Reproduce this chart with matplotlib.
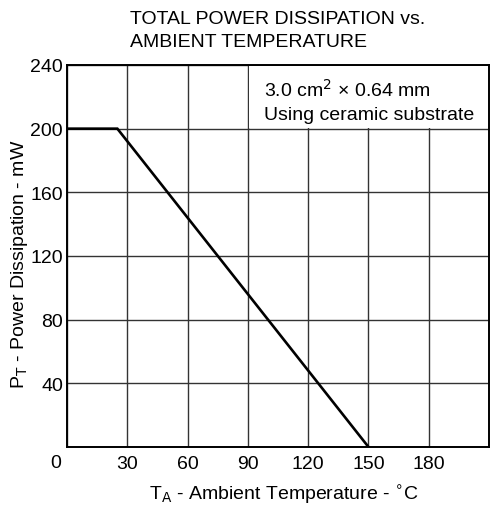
import numpy as np
import matplotlib
matplotlib.use("Agg")
import matplotlib.pyplot as plt
from matplotlib.patches import Rectangle

# derating curve
temp = [0, 25, 150]
power = [200, 200, 0]
xticks = [0, 30, 60, 90, 120, 150, 180]
xlabels = ["", "30", "60", "90", "120", "150", "180"]
yticks = [0, 40, 80, 120, 160, 200, 240]
ylabels = ["", "40", "80", "120", "160", "200", "240"]

plt.rcParams["font.family"] = ["Liberation Sans", "DejaVu Sans"]
fig = plt.figure(figsize=(4.9, 5.1), dpi=100)
ax = fig.add_axes([0.137, 0.1216, 0.861, 0.749])

ax.plot(temp, power, color="black", lw=1.9, solid_joinstyle="miter", zorder=3)
ax.set_xlim(0, 210)
ax.set_ylim(0, 240)
ax.set_xticks(xticks, xlabels)
ax.set_yticks(yticks, ylabels)
ax.grid(True, color="#333333", lw=1.0, zorder=1)
ax.set_axisbelow(True)
ax.tick_params(length=0, labelsize=14)
ax.tick_params(axis="x", pad=6)
ax.tick_params(axis="y", pad=3)
for s in ax.spines.values():
    s.set_linewidth(1.4)

# shared origin label
ax.text(-0.028, -0.04, "0", transform=ax.transAxes, fontsize=14, ha="center", va="center")

# blank cell behind the note
ax.add_patch(Rectangle((90.6, 200.6), 120, 39, facecolor="white", edgecolor="none", zorder=2))

ax.set_xlabel(r"T$_{\mathrm{A}}$ - Ambient Temperature - $^{\circ}$C", fontsize=14)
ax.xaxis.set_label_coords(0.514, -0.095)
ax.set_ylabel(r"P$_{\mathrm{T}}$ - Power Dissipation - mW", fontsize=14)
ax.yaxis.set_label_coords(-0.088, 0.48)

fig.text(0.265, 0.953, "TOTAL POWER DISSIPATION vs.", fontsize=14, va="baseline", ha="left")
fig.text(0.265, 0.908, "AMBIENT TEMPERATURE", fontsize=14, va="baseline", ha="left")
ax.text(0.467, 0.92, "3.0 cm$^2$ \u00d7 0.64 mm", transform=ax.transAxes,
        fontsize=14, va="baseline", ha="left", zorder=4)
ax.text(0.467, 0.858, "Using ceramic substrate", transform=ax.transAxes,
        fontsize=14, va="baseline", ha="left", zorder=4)

fig.savefig("out.png", dpi=100)
